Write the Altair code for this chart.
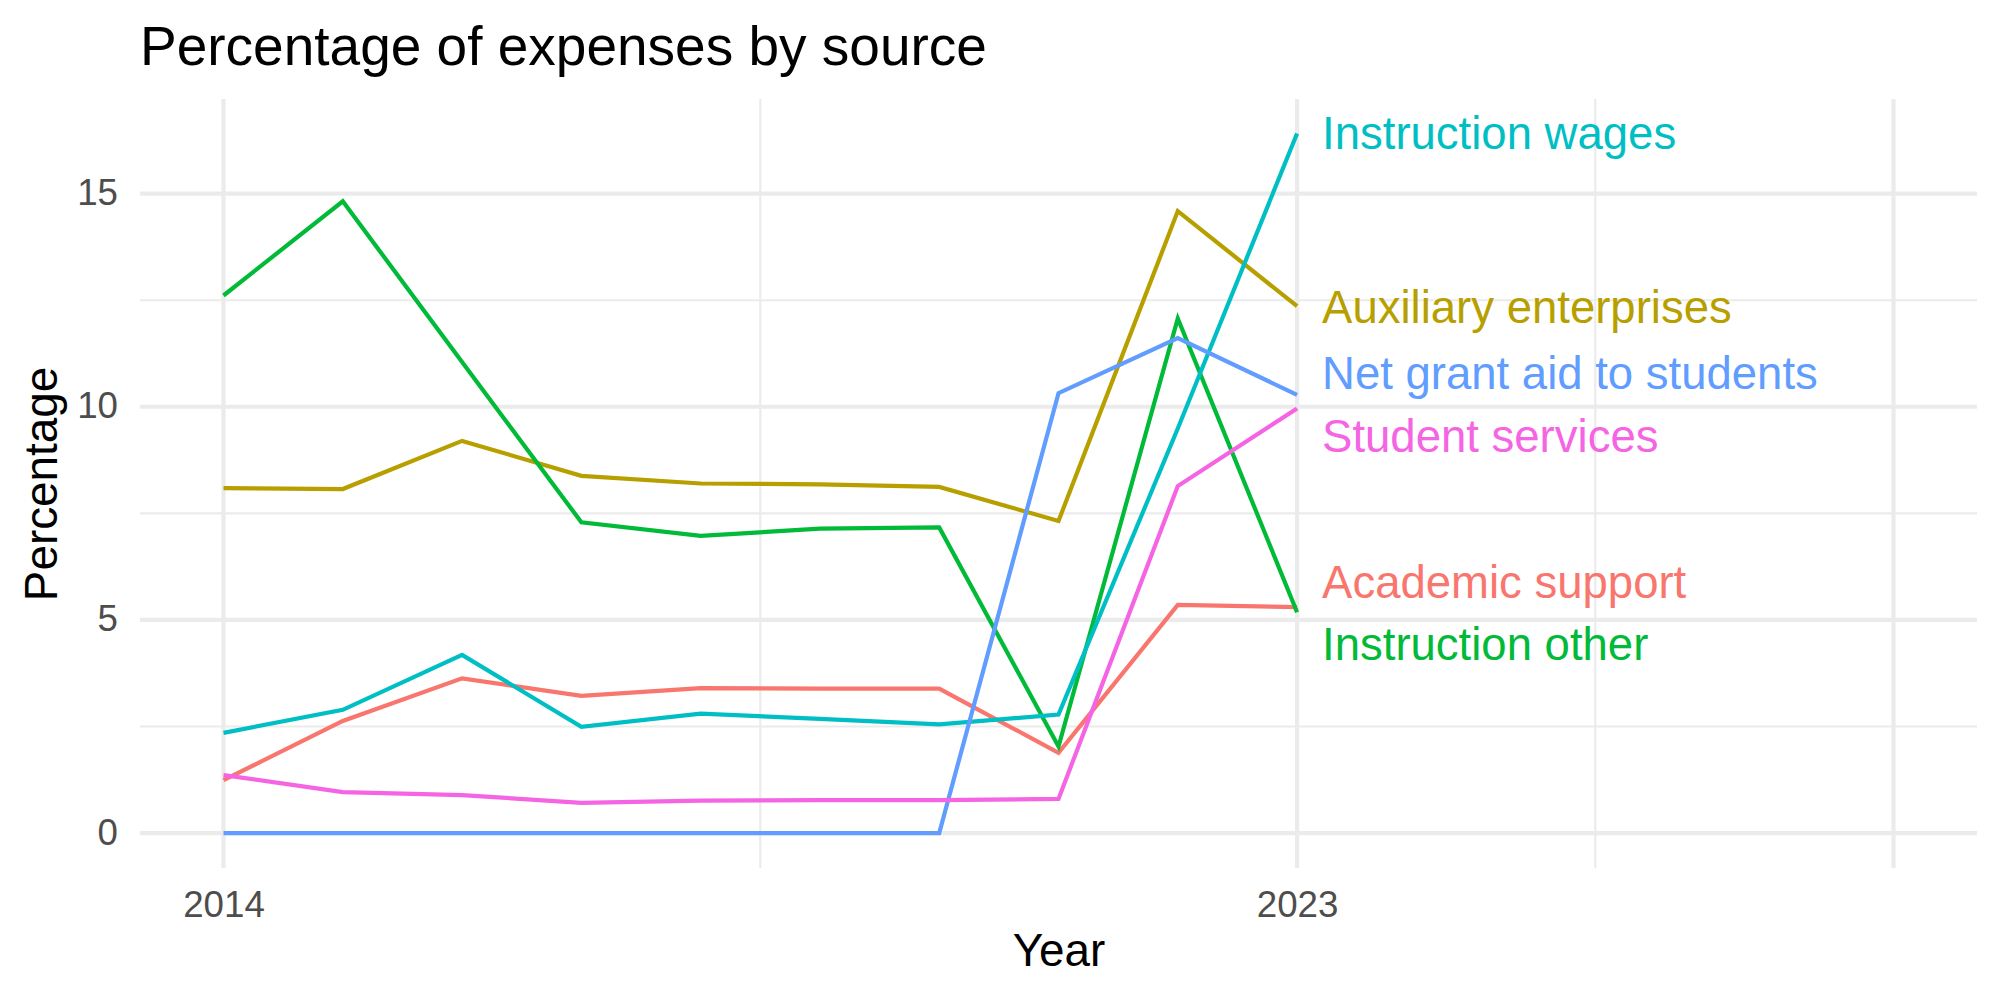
import altair as alt
import pandas as pd

# Share of expenses by source, 2014-2023
years = list(range(2014, 2024))
academic_support = [1.24, 2.63, 3.63, 3.22, 3.40, 3.39, 3.39, 1.88, 5.35, 5.30]
auxiliary_enterprises = [8.09, 8.07, 9.20, 8.38, 8.20, 8.18, 8.12, 7.32, 14.59, 12.36]
instruction_other = [12.61, 14.82, 11.05, 7.29, 6.97, 7.14, 7.17, 2.03, 12.07, 5.18]
instruction_wages = [2.35, 2.89, 4.18, 2.49, 2.80, 2.68, 2.55, 2.78, 9.49, 16.41]
net_grant_aid = [0, 0, 0, 0, 0, 0, 0, 10.32, 11.61, 10.28]
student_services = [1.36, 0.96, 0.89, 0.71, 0.76, 0.77, 0.77, 0.80, 8.14, 9.96]

sources = [
    "Academic support",
    "Auxiliary enterprises",
    "Instruction other",
    "Instruction wages",
    "Net grant aid to students",
    "Student services",
]
series = [
    academic_support,
    auxiliary_enterprises,
    instruction_other,
    instruction_wages,
    net_grant_aid,
    student_services,
]
colors = ["#F8766D", "#B79F00", "#00BA38", "#00BFC4", "#619CFF", "#F564E3"]

# End-of-line label positions (spread apart so they do not overlap)
label_year = 2023
label_y = [5.87, 12.34, 4.42, 16.41, 10.79, 9.31]

# Axis breaks and grid
x_breaks = [2014, 2023]
x_major_grid = [2014, 2023, 2028]
x_minor_grid = [2018.5, 2025.5]
y_breaks = [0, 5, 10, 15]
y_minor_grid = [2.5, 7.5, 12.5]

x_domain = [2013.3, 2028.7]
y_domain = [-0.82, 17.22]

FONT = "Liberation Sans"

df = pd.DataFrame(
    [
        {"Year": yr, "Percentage": val, "Source": src}
        for src, vals in zip(sources, series)
        for yr, val in zip(years, vals)
    ]
)
labels_df = pd.DataFrame(
    {"Source": sources, "Year": [label_year] * len(sources), "Percentage": label_y}
)

x_scale = alt.Scale(domain=x_domain, nice=False, zero=False)
y_scale = alt.Scale(domain=y_domain, nice=False, zero=False)
color_scale = alt.Scale(domain=sources, range=colors)

x_axis = alt.Axis(
    values=x_breaks,
    format="d",
    grid=False,
    ticks=False,
    domain=False,
    labelFont=FONT,
    labelFontSize=36.7,
    labelColor="#4D4D4D",
    labelPadding=19,
    labelBaseline="top",
    labelFlush=False,
    titleFont=FONT,
    titleFontSize=45.8,
    titleFontWeight="normal",
    titleColor="#000000",
    titleBaseline="alphabetic",
    titleAnchor="middle",
    titleX=918.5,
    titleY=97,
)
y_axis = alt.Axis(
    values=y_breaks,
    grid=False,
    ticks=False,
    domain=False,
    labelFont=FONT,
    labelFontSize=36.7,
    labelColor="#4D4D4D",
    labelPadding=22.5,
    labelBaseline="middle",
    labelFlush=False,
    titleFont=FONT,
    titleFontSize=45.8,
    titleFontWeight="normal",
    titleColor="#000000",
    titleAngle=270,
    titleBaseline="alphabetic",
    titleAlign="center",
    titleX=-84,
    titleY=384.5,
)


def xenc(field):
    return alt.X(field, scale=x_scale, axis=x_axis, title="Year")


def yenc(field):
    return alt.Y(field, scale=y_scale, axis=y_axis, title="Percentage")


grid_color = "#EBEBEB"

vmajor = (
    alt.Chart(pd.DataFrame({"x": x_major_grid}))
    .mark_rule(color=grid_color, strokeWidth=4.2)
    .encode(x=xenc("x:Q"))
)
vminor = (
    alt.Chart(pd.DataFrame({"x": x_minor_grid}))
    .mark_rule(color=grid_color, strokeWidth=2.1)
    .encode(x=xenc("x:Q"))
)
hmajor = (
    alt.Chart(pd.DataFrame({"y": y_breaks}))
    .mark_rule(color=grid_color, strokeWidth=4.2)
    .encode(y=yenc("y:Q"))
)
hminor = (
    alt.Chart(pd.DataFrame({"y": y_minor_grid}))
    .mark_rule(color=grid_color, strokeWidth=2.1)
    .encode(y=yenc("y:Q"))
)

lines = (
    alt.Chart(df)
    .mark_line(strokeWidth=4.2)
    .encode(
        x=xenc("Year:Q"),
        y=yenc("Percentage:Q"),
        color=alt.Color("Source:N", scale=color_scale, legend=None),
        detail="Source:N",
    )
)

labels = (
    alt.Chart(labels_df)
    .mark_text(
        align="left",
        baseline="alphabetic",
        dx=25,
        dy=15.5,
        font=FONT,
        fontSize=45.5,
    )
    .encode(
        x=xenc("Year:Q"),
        y=yenc("Percentage:Q"),
        text="Source:N",
        color=alt.Color("Source:N", scale=color_scale, legend=None),
    )
)

chart = (
    alt.layer(vminor, vmajor, hminor, hmajor, lines, labels)
    .properties(
        width=1837,
        height=769,
        autosize=alt.AutoSizeParams(type="none"),
        padding={"left": 140, "top": 99, "right": 23, "bottom": 132},
        background="white",
        title=alt.TitleParams(
            text="Percentage of expenses by source",
            anchor="start",
            frame="group",
            font=FONT,
            fontSize=55,
            fontWeight="normal",
            color="#000000",
            baseline="alphabetic",
            offset=-23,
        ),
    )
    .configure_view(stroke=None)
)

chart.save("out.html", embed_options={"renderer": "svg", "actions": False})
